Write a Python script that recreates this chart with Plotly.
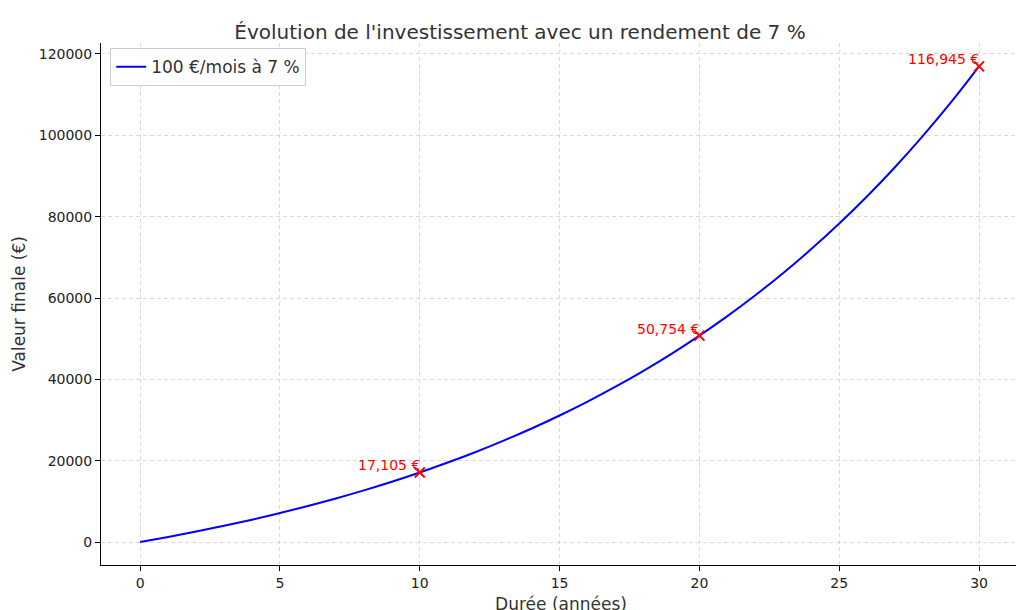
import plotly.graph_objects as go

years = list(range(0, 31))
valeurs = [0, 1238, 2563, 3980, 5497, 7120, 8856, 10714, 12702, 14829, 17105,
           19541, 22147, 24935, 27918, 31111, 34526, 38181, 42092, 46276, 50754,
           55545, 60671, 66156, 72025, 78305, 85024, 92214, 99907, 108139, 116945]
marque_x = [10, 20, 30]
marque_y = [17105, 50754, 116945]
marque_txt = ["17,105 €", "50,754 €", "116,945 €"]

fig = go.Figure()
fig.add_trace(go.Scatter(x=years, y=valeurs, mode="lines", name="100 €/mois à 7 %",
                         line=dict(color="#0000ff", width=2, shape="spline")))
fig.add_trace(go.Scatter(x=marque_x, y=marque_y, mode="markers", showlegend=False,
                         marker=dict(symbol="x-thin", size=10, color="red",
                                     line=dict(color="red", width=2))))
for x, y, t in zip(marque_x, marque_y, marque_txt):
    fig.add_annotation(x=x, y=y, text=t, showarrow=False, xanchor="right",
                       yanchor="bottom", xshift=2, yshift=-3,
                       font=dict(color="red", size=14))

ax = dict(showline=True, linecolor="black", linewidth=1, ticks="outside",
          tickcolor="black", showgrid=True, gridcolor="#d9d9d9", griddash="4px,3px",
          zeroline=False, tickfont=dict(size=14, color="#222"), mirror=False,
          automargin=False)
fig.update_layout(
    width=1024, height=610, plot_bgcolor="white", paper_bgcolor="white",
    font=dict(family="DejaVu Sans", color="#333"),
    title=dict(text="Évolution de l'investissement avec un rendement de 7 %",
               x=0.5, y=0.972, font=dict(size=20)),
    margin=dict(l=93, r=11, t=35, b=53),
    xaxis=dict(ax, range=[-1.4, 31.5], dtick=5,
               title=dict(text="Durée (années)", font=dict(size=17), standoff=8)),
    yaxis=dict(ax, range=[-5650, 122700], dtick=20000, tickformat="d",
               title=dict(text="Valeur finale (€)", font=dict(size=17), standoff=8)),
    legend=dict(x=0.01, y=0.99, bordercolor="#ccc", borderwidth=1,
                font=dict(size=17), bgcolor="white"),
)
fig.write_html("out.html")
